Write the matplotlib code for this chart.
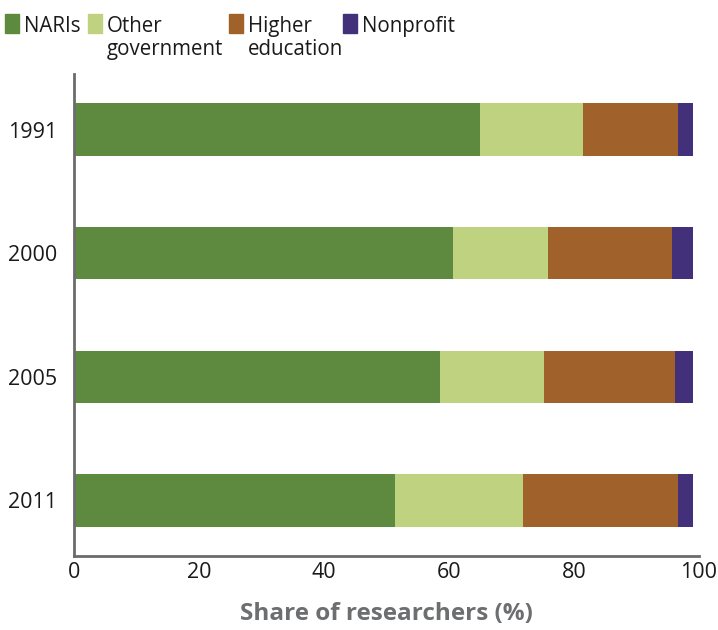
import numpy as np
from matplotlib import pyplot as plt
from matplotlib.patches import Rectangle

years = ["1991", "2000", "2005", "2011"]
sectors = ["NARIs", "Other\ngovernment", "Higher\neducation", "Nonprofit"]
naris = [65.0, 60.6, 58.6, 51.4]
other_gov = [16.5, 15.2, 16.6, 20.5]
higher_ed = [15.2, 19.9, 21.0, 24.8]
nonprofit = [2.4, 3.3, 2.9, 2.4]
kleuren = ["#5e8a3f", "#bed27f", "#a0612a", "#43307a"]

plt.rcParams['font.family'] = ['Open Sans', 'DejaVu Sans']

fig = plt.figure(figsize=(7.18, 6.3), dpi=100)
ax = fig.add_axes([74/718, 74/630, 625/718, 482/630])

y = np.arange(len(years))
stapel = np.zeros(len(years))
for waarden, kleur in zip([naris, other_gov, higher_ed, nonprofit], kleuren):
    ax.barh(y, waarden, left=stapel, height=0.424, color=kleur)
    stapel = stapel + np.array(waarden)

ax.set_xlim(0, 100)
ax.set_ylim(3.45, -0.45)
ax.set_yticks(y)
ax.set_yticklabels(years)
ax.set_xticks([0, 20, 40, 60, 80, 100])
ax.tick_params(length=0, labelsize=15.5, colors="#1a1a1a")
ax.tick_params(axis="y", pad=12)
ax.tick_params(axis="x", pad=4)
for kant in ["top", "right"]:
    ax.spines[kant].set_visible(False)
for kant in ["left", "bottom"]:
    ax.spines[kant].set_color("#6b6b6b")
    ax.spines[kant].set_linewidth(2)
ax.set_xlabel("Share of researchers (%)", fontsize=17.5, fontweight="bold",
              color="#6d6e70", labelpad=14)

# legend by hand
xs = [5, 88, 229, 343]
for x0, naam, kleur in zip(xs, sectors, kleuren):
    fig.add_artist(Rectangle((x0/718, 1 - 33/630), 14/718, 19/630,
                             color=kleur, transform=fig.transFigure))
    fig.text((x0 + 19)/718, 1 - 16/630, naam, fontsize=14.8, va="top",
             ha="left", color="#1a1a1a", linespacing=1.1)

fig.savefig("out.png", dpi=100)
